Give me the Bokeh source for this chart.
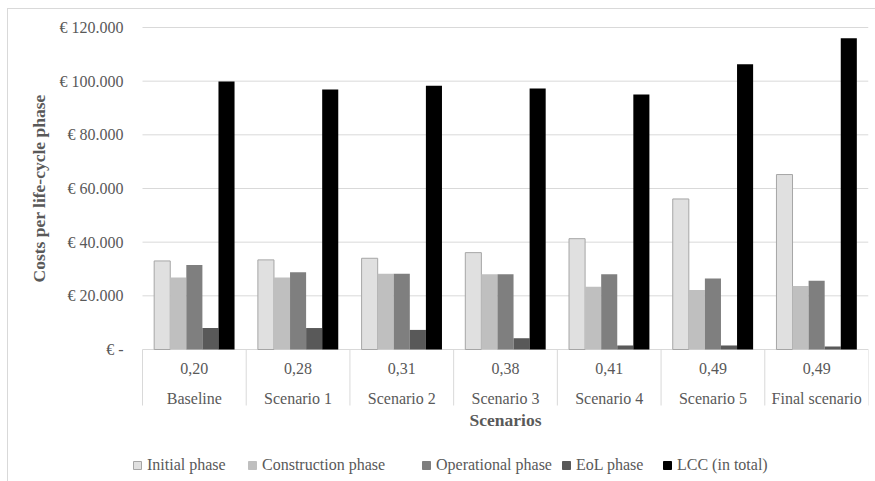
from bokeh.plotting import figure
from bokeh.models import (ColumnDataSource, Range1d, FixedTicker,
                          Legend, LegendItem, Title)
from bokeh.transform import dodge
from bokeh.core.properties import value
from bokeh.embed import file_html
from bokeh.resources import INLINE

# ---- data -------------------------------------------------------------
scenarios = ["Baseline", "Scenario 1", "Scenario 2", "Scenario 3",
             "Scenario 4", "Scenario 5", "Final scenario"]
ratios = ["0,20", "0,28", "0,31", "0,38", "0,41", "0,49", "0,49"]

initial_phase = [33000, 33400, 34000, 36100, 41300, 56100, 65200]
construction_phase = [26800, 26800, 28200, 28000, 23400, 22200, 23700]
operational_phase = [31500, 28800, 28200, 28000, 28000, 26500, 25600]
eol_phase = [8000, 8000, 7300, 4200, 1500, 1500, 1100]
lcc_total = [99900, 96900, 98300, 97300, 95000, 106300, 116000]

y_ticks = [0, 20000, 40000, 60000, 80000, 100000, 120000]
y_tick_labels = ["€ -", "€ 20.000", "€ 40.000", "€ 60.000",
                 "€ 80.000", "€ 100.000", "€ 120.000"]

series_names = ["Initial phase", "Construction phase", "Operational phase",
                "EoL phase", "LCC (in total)"]

# ---- layout ------------------------------------------------------------
W, H = 875, 481
FRAME_L, FRAME_R, FRAME_T, FRAME_B = 125, 868, 20, 481
PLOT_L = 142                       # left edge of the category area
ZERO_PX, TOP_PX = 349, 27          # pixel rows of 0 and of the top tick
n_cat = len(scenarios)
cat_px = (FRAME_R - PLOT_L) / n_cat
y_per_px = y_ticks[-1] / (ZERO_PX - TOP_PX)


def px_to_y(py):
    return (ZERO_PX - py) * y_per_px


SERIF = "Liberation Serif"
TEXT_GREY = "#595959"
GRID_GREY = "#d9d9d9"

source = ColumnDataSource(dict(
    cat=scenarios, ratio=ratios, xc=[i + 0.5 for i in range(n_cat)],
    initial=initial_phase, construction=construction_phase,
    operational=operational_phase, eol=eol_phase, lcc=lcc_total,
))

p = figure(width=W, height=H, output_backend="svg", toolbar_location=None,
           x_range=Range1d(-(PLOT_L - FRAME_L) / cat_px, n_cat),
           y_range=Range1d(px_to_y(FRAME_B), px_to_y(FRAME_T)),
           x_axis_location=None,
           min_border_left=FRAME_L, min_border_right=W - FRAME_R,
           min_border_top=FRAME_T, min_border_bottom=H - FRAME_B)
p.outline_line_color = None
p.background_fill_color = "white"
p.border_fill_alpha = 0
# thin grey chart-area border along the top and left edges
p.styles = {
    "background": (
        f"linear-gradient({GRID_GREY},{GRID_GREY}) 7px 8px / 1px 100% no-repeat, "
        f"linear-gradient({GRID_GREY},{GRID_GREY}) 7px 8px / 100% 1px no-repeat, "
        "white"
    )
}
p.xgrid.visible = False
p.ygrid.visible = False

# horizontal gridlines over the category area (the zero line is the axis line)
p.segment(x0=[0] * len(y_ticks), x1=[n_cat] * len(y_ticks),
          y0=y_ticks, y1=y_ticks, line_color=GRID_GREY, line_width=1)

# value axis
yax = p.yaxis[0]
yax.ticker = FixedTicker(ticks=y_ticks)
yax.bounds = (y_ticks[0], y_ticks[-1])
yax.major_label_overrides = {t: s for t, s in zip(y_ticks, y_tick_labels)}
yax.axis_line_color = None
yax.major_tick_line_color = None
yax.minor_tick_line_color = None
yax.major_tick_out = 0
yax.major_label_standoff = 2
yax.major_label_text_font = SERIF
yax.major_label_text_font_size = "16px"
yax.major_label_text_color = TEXT_GREY

# axis title, placed so it sits beside the 0 – 120.000 span
p.add_layout(Title(text="Costs per life-cycle phase", align="left",
                   offset=FRAME_B - 282, standoff=15,
                   text_font=SERIF, text_font_size="17.5px",
                   text_font_style="bold", text_color=TEXT_GREY), "left")

# bars
fills = ["#e0e0e0", "#bfbfbf", "#7f7f7f", "#595959", "#000000"]
lines = ["#a6a6a6", None, None, None, None]
fields = ["initial", "construction", "operational", "eol", "lcc"]
offsets = [-0.31, -0.155, 0.0, 0.155, 0.31]
for f, off, fc, lc in zip(fields, offsets, fills, lines):
    p.vbar(x=dodge("xc", off), top=f, bottom=0,
           width=0.155, source=source, fill_color=fc,
           line_color=lc, line_width=1)

# two-level category labels with separators
p.text(x="xc", y=px_to_y(368), text="ratio", source=source,
       text_font=value(SERIF), text_font_size="16px",
       text_color=TEXT_GREY, text_align="center", text_baseline="middle")
p.text(x="xc", y=px_to_y(398), text="cat", source=source,
       text_font=value(SERIF), text_font_size="16px",
       text_color=TEXT_GREY, text_align="center", text_baseline="middle")
edges = list(range(n_cat + 1))
p.segment(x0=edges, x1=edges, y0=[0] * len(edges),
          y1=[px_to_y(405)] * len(edges), line_color=GRID_GREY, line_width=1)
p.text(x=[n_cat / 2], y=[px_to_y(419)], text=["Scenarios"],
       text_font=value(SERIF), text_font_size="17.5px",
       text_font_style="bold", text_color=TEXT_GREY,
       text_align="center", text_baseline="middle")

# legend: one entry per series, each a small square swatch
legend_box_px = [137, 252, 426, 566, 667]
for name, fc, lc, cx in zip(series_names, fills, lines, legend_box_px):
    swatch = p.scatter(x=[0.5], y=[float("nan")], marker="square",
                       size=8, fill_color=fc,
                       line_color=lc if lc else fc, line_width=1)
    leg = Legend(items=[LegendItem(label=name, renderers=[swatch])],
                 location=(cx - 10 - FRAME_L, FRAME_B - 475),
                 orientation="horizontal", glyph_width=20, glyph_height=20,
                 label_standoff=0, padding=0, margin=0, spacing=0,
                 border_line_color=None, background_fill_alpha=0,
                 label_text_font=SERIF, label_text_font_size="16px",
                 label_text_color=TEXT_GREY)
    p.add_layout(leg)

open("out.html", "w").write(file_html(p, INLINE))
